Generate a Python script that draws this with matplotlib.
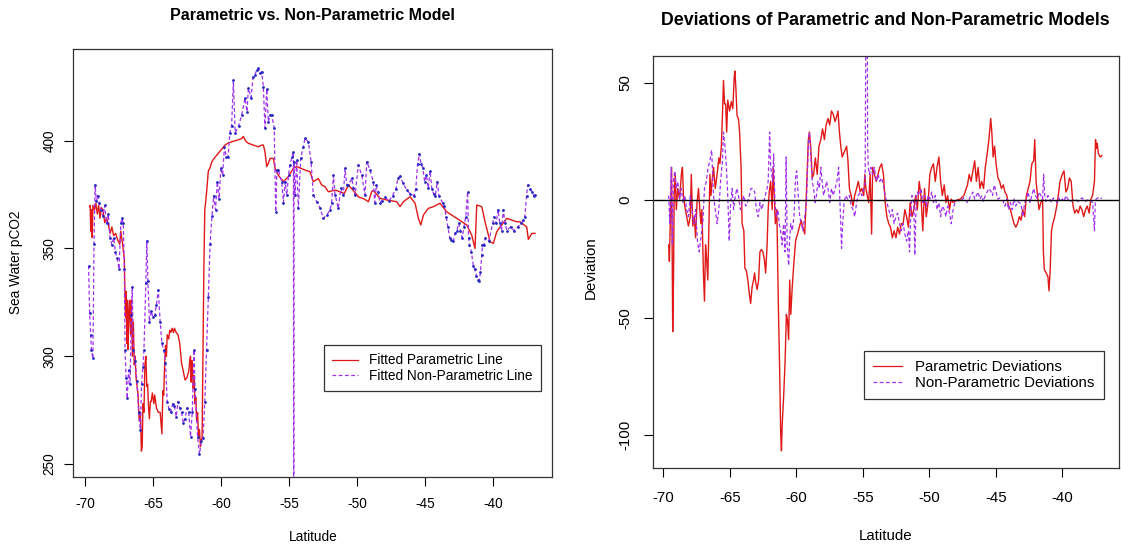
import matplotlib
matplotlib.use('Agg')
import matplotlib.pyplot as plt
from matplotlib.lines import Line2D

plt.rcParams['font.family'] = ['Liberation Sans', 'DejaVu Sans']
plt.rcParams['axes.unicode_minus'] = False

# fitted pCO2 along the cruise track: parametric fit
lat_par = [-69.66, -69.62, -69.58, -69.52, -69.47, -69.42, -69.30, -69.20, -69.10, -69.00,
           -68.90, -68.80, -68.69, -68.55, -68.40, -68.25, -68.15, -68.03, -67.90, -67.75,
           -67.60, -67.45, -67.37, -67.24, -67.11, -67.06, -67.02, -66.98, -66.93, -66.88,
           -66.85, -66.78, -66.72, -66.66, -66.59, -66.52, -66.45, -66.38, -66.32, -66.25,
           -66.19, -66.10, -66.02, -65.93, -65.86, -65.80, -65.74, -65.67, -65.60, -65.53,
           -65.46, -65.40, -65.33, -65.27, -65.20, -65.14, -65.05, -64.95, -64.88, -64.75,
           -64.62, -64.48, -64.40, -64.35, -64.28, -64.22, -64.15, -64.09, -64.02, -63.96,
           -63.85, -63.78, -63.70, -63.60, -63.50, -63.43, -63.30, -63.17, -63.04, -62.95,
           -62.91, -62.78, -62.65, -62.52, -62.38, -62.30, -62.25, -62.20, -62.15, -62.12,
           -62.05, -61.99, -61.92, -61.86, -61.80, -61.73, -61.66, -61.59, -61.52, -61.46,
           -61.40, -61.33, -61.27, -61.20, -61.13, -61.07, -60.94, -60.81, -60.70, -60.54,
           -60.30, -60.02, -59.71, -59.49, -59.23, -58.97, -58.70, -58.49, -58.37, -58.18,
           -58.00, -57.65, -57.27, -57.00, -56.90, -56.78, -56.65, -56.53, -56.41, -56.16,
           -56.04, -55.80, -55.43, -55.06, -54.69, -54.45, -53.84, -53.47, -53.23, -52.86,
           -52.61, -52.37, -52.12, -51.63, -51.26, -50.95, -50.65, -50.30, -49.92, -49.50,
           -49.18, -48.94, -48.82, -48.33, -47.83, -47.10, -46.86, -46.61, -46.12, -45.75,
           -45.51, -45.33, -45.14, -44.78, -44.41, -43.92, -43.42, -42.69, -41.95, -41.59,
           -41.35, -41.22, -40.85, -40.61, -40.24, -40.00, -39.75, -39.38, -39.02, -38.65,
           -38.28, -38.04, -37.55, -37.43, -37.18, -36.94]
pco2_par = [369.4, 370, 358, 368, 355, 370, 368, 371, 366, 370,
            364, 369, 368, 362, 364, 360, 357, 360, 356, 357,
            354, 352, 358, 352, 345, 327, 318, 330, 306, 326,
            303, 320, 326, 310, 326, 300, 316, 296, 300, 290,
            287, 282, 270, 274, 256, 258, 278, 274, 296, 300,
            286, 287, 276, 271, 279, 279, 283, 278, 282, 276,
            274, 274, 268, 264, 284, 282, 296, 305, 300, 310,
            308, 312, 311, 313, 311, 313, 311, 310, 306, 300,
            297, 293, 289, 290, 293, 298, 300, 288, 298, 297,
            285, 291, 278, 281, 270, 274, 262, 266, 258, 261,
            262, 303, 340, 368, 372, 376, 386, 387.5, 390, 391.6,
            393.5, 395.6, 398, 398.9, 399.5, 400, 400.5, 401, 402, 399.7,
            398.8, 398, 397.2, 398, 398, 394.9, 388, 389.5, 391.8, 391.8,
            387.2, 384, 381, 383.3, 387.2, 388, 386.4, 385.6, 381, 382.5,
            379.4, 378.7, 376.3, 377.1, 376.3, 375.5, 379.4, 377, 374, 373,
            371.7, 376.3, 377, 373.3, 372.5, 371.7, 369.4, 371.7, 374, 371,
            364, 360.9, 365.5, 368.6, 369.4, 371, 367, 364, 360.9, 356.2,
            350, 370.2, 369.4, 362.4, 353.1, 352.4, 357.8, 360.9, 364, 363.2,
            362.4, 362.4, 360, 354.2, 357, 357]

# non-parametric fit (observations sit on top of it as small dots)
lat_np = [-69.74, -69.66, -69.58, -69.53, -69.42, -69.34, -69.26, -69.16, -69.08, -68.95,
          -68.82, -68.69, -68.56, -68.42, -68.29, -68.16, -68.03, -67.90, -67.77, -67.64,
          -67.50, -67.37, -67.29, -67.19, -67.11, -67.06, -66.98, -66.90, -66.80, -66.69,
          -66.59, -66.53, -66.45, -66.32, -66.19, -66.06, -65.93, -65.85, -65.74, -65.67,
          -65.53, -65.46, -65.38, -65.27, -65.14, -65.01, -64.88, -64.75, -64.62, -64.48,
          -64.35, -64.22, -64.09, -63.96, -63.83, -63.70, -63.56, -63.43, -63.30, -63.17,
          -63.04, -62.91, -62.78, -62.65, -62.52, -62.38, -62.25, -62.12, -61.99, -61.92,
          -61.73, -61.59, -61.46, -61.33, -61.20, -61.07, -60.94, -60.81, -60.68, -60.54,
          -60.41, -60.28, -60.15, -60.02, -59.89, -59.76, -59.62, -59.49, -59.36, -59.23,
          -59.10, -58.97, -58.71, -58.49, -58.25, -58.10, -58.00, -57.80, -57.65, -57.51,
          -57.39, -57.27, -57.13, -57.02, -56.90, -56.78, -56.65, -56.53, -56.41, -56.29,
          -56.10, -55.99, -55.90, -55.80, -55.55, -55.42, -55.30, -55.18, -55.05, -54.94,
          -54.80, -54.69, -54.66, -54.64, -54.57, -54.45, -54.33, -54.15, -53.97, -53.84,
          -53.59, -53.39, -53.23, -52.98, -52.73, -52.49, -52.24, -52.00, -51.88, -51.75,
          -51.63, -51.39, -51.20, -51.02, -50.90, -50.77, -50.65, -50.41, -50.28, -50.16,
          -49.92, -49.67, -49.43, -49.30, -49.06, -48.82, -48.72, -48.60, -48.46, -48.33,
          -48.20, -47.94, -47.67, -47.41, -47.15, -47.02, -46.88, -46.62, -46.36, -46.10,
          -45.83, -45.70, -45.57, -45.43, -45.31, -45.18, -45.05, -44.92, -44.78, -44.65,
          -44.52, -44.39, -44.26, -44.13, -44.00, -43.73, -43.60, -43.47, -43.34, -43.21,
          -43.08, -42.94, -42.81, -42.68, -42.55, -42.42, -42.29, -42.16, -42.03, -41.89,
          -41.82, -41.76, -41.62, -41.47, -41.37, -41.24, -41.11, -41.03, -40.95, -40.85,
          -40.80, -40.69, -40.58, -40.32, -40.06, -39.93, -39.79, -39.66, -39.53, -39.40,
          -39.27, -39.14, -39.01, -38.74, -38.48, -38.22, -37.95, -37.82, -37.69, -37.56,
          -37.48, -37.30, -37.17, -37.03, -36.94]
pco2_np = [342, 320, 310, 303, 299, 352, 379.4, 372, 374.5, 371,
           368, 365, 370, 361.6, 366, 355, 351.8, 355, 348.6, 345.4,
           340.5, 361.6, 364, 361.6, 340.5, 303, 290, 280.5, 293.5, 287,
           319, 332, 303, 298, 288.6, 274, 266, 287, 295, 303,
           334, 353.5, 335, 316, 321, 318, 319, 324, 330.8, 316,
           306, 303, 297, 279, 275.5, 274, 278, 277, 272, 279,
           276, 274, 269, 271, 276, 274, 262.7, 274, 303, 285,
           262.7, 254.5, 260.5, 262, 279, 303, 327.5, 352, 365, 374.5,
           368, 381, 373, 387.5, 384, 397, 392.4, 392.4, 403.7, 407,
           428, 403.7, 407, 412, 419.7, 413.5, 424.3, 420, 429.7, 430.5,
           433, 433.6, 431.3, 432, 425, 405.8, 424, 408.8, 411.8, 412,
           406, 367, 386.5, 386.5, 381, 371.3, 381, 374.8, 384, 388.7,
           392.4, 394.9, 120, 390, 374.8, 391, 368.6, 392, 397, 401.1,
           399.5, 390.3, 375, 371.7, 368.6, 364, 365.5, 368, 371.3, 384,
           375, 368.6, 378, 374.8, 387.2, 379.4, 379.4, 382.5, 378, 374.8,
           388.7, 384, 374.8, 390.3, 386.4, 381, 371.3, 379.4, 376, 371.3,
           372, 373.7, 372, 374.5, 377.8, 382.6, 383.5, 380.2, 377, 375.4,
           374.5, 377.8, 389, 394, 389, 387.5, 381, 384, 378, 386,
           377.8, 375.4, 374.5, 381, 374.5, 371.3, 369.7, 364.8, 360, 355,
           354, 353.5, 357, 358.3, 361.6, 358.3, 355, 360, 364.8, 376.2,
           355, 351.8, 348.6, 342, 340.5, 337.3, 335.6, 335, 339, 347,
           351.8, 351.8, 355, 353.5, 361.6, 364.8, 361.6, 368, 361.6, 358.3,
           368, 361.6, 358.3, 360, 358.3, 360, 361.6, 363, 364.8, 374.5,
           379.4, 377.8, 376.2, 374.5, 375]

# deviations (observed minus fitted) for the parametric model
lat_dpar = [-69.60, -69.55, -69.46, -69.38, -69.30, -69.24, -69.19, -69.11, -69.03, -68.92,
            -68.78, -68.65, -68.57, -68.49, -68.39, -68.25, -68.12, -67.98, -67.90, -67.79,
            -67.68, -67.58, -67.47, -67.36, -67.26, -67.18, -67.10, -66.99, -66.91, -66.83,
            -66.75, -66.66, -66.58, -66.50, -66.42, -66.34, -66.23, -66.10, -65.96, -65.83,
            -65.75, -65.64, -65.56, -65.48, -65.40, -65.32, -65.24, -65.16, -65.02, -64.89,
            -64.78, -64.67, -64.62, -64.54, -64.46, -64.35, -64.27, -64.16, -64.08, -63.95,
            -63.87, -63.76, -63.65, -63.54, -63.44, -63.33, -63.22, -63.14, -63.06, -62.95,
            -62.84, -62.74, -62.63, -62.52, -62.41, -62.31, -62.20, -62.12, -62.04, -61.93,
            -61.82, -61.74, -61.66, -61.58, -61.47, -61.34, -61.26, -61.18, -61.12, -61.07,
            -60.96, -60.85, -60.75, -60.67, -60.58, -60.50, -60.42, -60.31, -60.18, -60.05,
            -59.91, -59.78, -59.64, -59.51, -59.37, -59.29, -59.18, -59.10, -59.02, -58.92,
            -58.81, -58.70, -58.57, -58.43, -58.30, -58.16, -58.03, -57.89, -57.76, -57.62,
            -57.49, -57.36, -57.22, -57.09, -56.95, -56.87, -56.76, -56.66, -56.55, -56.44,
            -56.33, -56.22, -56.12, -56.01, -55.88, -55.74, -55.61, -55.47, -55.34, -55.20,
            -55.07, -54.93, -54.85, -54.77, -54.67, -54.56, -54.45, -54.34, -54.26, -54.13,
            -53.99, -53.86, -53.72, -53.59, -53.45, -53.32, -53.19, -53.05, -52.92, -52.78,
            -52.65, -52.51, -52.38, -52.24, -52.11, -51.97, -51.84, -51.71, -51.57, -51.44,
            -51.30, -51.17, -51.03, -50.90, -50.76, -50.63, -50.49, -50.36, -50.23, -50.09,
            -49.96, -49.82, -49.69, -49.55, -49.42, -49.28, -49.15, -49.02, -48.88, -48.75,
            -48.62, -48.48, -48.35, -48.21, -47.94, -47.67, -47.40, -47.13, -47.00, -46.86,
            -46.59, -46.46, -46.33, -46.19, -46.06, -45.92, -45.79, -45.65, -45.52, -45.38,
            -45.30, -45.20, -45.09, -44.98, -44.84, -44.71, -44.58, -44.44, -44.31, -44.17,
            -44.04, -43.90, -43.77, -43.63, -43.50, -43.37, -43.23, -43.10, -42.97, -42.83,
            -42.70, -42.56, -42.43, -42.29, -42.15, -42.07, -41.97, -41.86, -41.75, -41.61,
            -41.48, -41.42, -41.35, -41.21, -41.08, -41.00, -40.92, -40.81, -40.71, -40.57,
            -40.42, -40.30, -40.17, -40.00, -39.87, -39.73, -39.60, -39.46, -39.33, -39.19,
            -39.06, -38.92, -38.79, -38.66, -38.52, -38.39, -38.25, -38.12, -37.98, -37.85,
            -37.72, -37.58, -37.50, -37.44, -37.37, -37.29, -37.15, -37.02]
dev_par = [-19, -26, -4, 14, -56, -34, 2, 11, -4, 5,
           0.5, 11, 14, 2, -2.5, -7, -11, -7, 11, -11,
           -7, -16, -1, 5, -4, -10, -4, -31, -43, -19,
           -25, -34, -11, 11, 2, 8, 14, 5, 11, 18,
           15.6, 23, 36, 51, 41, 41, 29, 42.6, 38, 42,
           39, 52.7, 55, 46.8, 36, 34.6, 29, 14, -10, -13,
           -29, -30, -34, -39.7, -44, -37, -34, -31, -35, -38,
           -34, -22, -21, -22, -25, -31, -19, -4, 3.5, 8,
           -4, 14, 2, -10, -4, -48.6, -71, -99, -106.7, -96,
           -84, -69, -48.6, -51, -59.4, -34, -48.6, -37, -26, -17,
           -14.4, -11.5, -8.5, -11.5, -14.4, -4, 14, 25.8, 29, 23,
           9.5, 11, 18, 11, 23, 25.8, 30.4, 25.8, 32, 34.8,
           32, 38, 36.5, 33.5, 36, 38, 29, 23, 18.4, 20,
           21.4, 23, 16.8, 5, 2, -2.5, 2, 5, 8, 3.5,
           5, 2, 11, 5, 2, -1, 11, -14.4, 14, 11,
           8, 11, 14, 15.5, 11, -1, -7, -10, -11.5, -16,
           -13, -16, -11.5, -14.4, -10, -10, -4, -7, -11.5, -1,
           -7, -4, 2, -4, 8, 2, -13, 5, -7, -1,
           11, 14, 15.5, 8, 14, 18.4, 8, 2, 6.5, -1,
           2, -4, 0.5, -1, 0, 0.5, 2, 6.5, 11, 8,
           16.8, 8, 14, 5, 8, 5, 14, 19.7, 25.8, 34.8,
           29, 18.4, 23, 15.5, 9.5, 8, 5, 6.5, 3.5, 2,
           -2.5, -4, -7, -10, -11.5, -10, -7, -8.5, -4, -7,
           2, 5, 8, 15.5, 16.8, 25.8, 8, 2, -4, -1,
           0.5, -22, -29.5, -31, -32.5, -38.6, -31, -13, -10, -7,
           -2.5, 2, 8, 11, 12.5, 3.5, 5, 9.5, 8, -2.5,
           -5.5, -4, -5.5, -2.5, -4, -7, -4, -2.5, -5.5, 0.5,
           2, 8, 25.8, 22, 24.3, 20, 18.4, 19]

# deviations for the non-parametric model
lat_dnp = [-69.60, -69.52, -69.41, -69.33, -69.25, -69.14, -69.03, -68.92, -68.78, -68.65,
           -68.52, -68.39, -68.25, -68.12, -67.98, -67.85, -67.71, -67.58, -67.44, -67.31,
           -67.18, -67.04, -66.91, -66.77, -66.64, -66.50, -66.37, -66.23, -66.10, -65.96,
           -65.83, -65.70, -65.56, -65.48, -65.37, -65.26, -65.16, -65.05, -64.94, -64.83,
           -64.72, -64.62, -64.48, -64.35, -64.21, -64.08, -63.95, -63.81, -63.68, -63.54,
           -63.41, -63.27, -63.14, -63.00, -62.87, -62.74, -62.60, -62.47, -62.34, -62.20,
           -62.12, -62.01, -61.93, -61.79, -61.71, -61.61, -61.50, -61.39, -61.29, -61.18,
           -61.07, -60.96, -60.85, -60.77, -60.69, -60.58, -60.50, -60.42, -60.31, -60.18,
           -60.05, -59.97, -59.86, -59.75, -59.62, -59.51, -59.37, -59.24, -59.10, -59.02,
           -58.92, -58.81, -58.70, -58.59, -58.49, -58.38, -58.27, -58.16, -58.06, -57.95,
           -57.84, -57.73, -57.62, -57.49, -57.36, -57.22, -57.09, -56.95, -56.82, -56.68,
           -56.60, -56.52, -56.41, -56.28, -56.15, -56.01, -55.88, -55.74, -55.61, -55.47,
           -55.34, -55.20, -55.07, -54.93, -54.83, -54.70, -54.64, -54.59, -54.50, -54.40,
           -54.26, -54.13, -53.99, -53.86, -53.72, -53.59, -53.45, -53.32, -53.19, -53.05,
           -52.92, -52.78, -52.65, -52.51, -52.38, -52.24, -52.11, -51.97, -51.84, -51.71,
           -51.57, -51.49, -51.39, -51.30, -51.17, -51.09, -50.98, -50.90, -50.76, -50.63,
           -50.49, -50.36, -50.23, -50.09, -49.96, -49.82, -49.69, -49.55, -49.42, -49.28,
           -49.15, -49.02, -48.88, -48.75, -48.62, -48.48, -48.35, -48.21, -48.08, -47.94,
           -47.67, -47.40, -47.13, -46.86, -46.73, -46.59, -46.33, -46.19, -46.06, -45.92,
           -45.79, -45.65, -45.52, -45.38, -45.25, -45.11, -44.98, -44.84, -44.71, -44.44,
           -44.31, -44.17, -44.04, -43.90, -43.77, -43.63, -43.50, -43.37, -43.23, -43.10,
           -42.97, -42.83, -42.70, -42.56, -42.43, -42.29, -42.15, -42.02, -41.88, -41.75,
           -41.61, -41.48, -41.40, -41.32, -41.21, -41.08, -40.94, -40.81, -40.67, -40.54,
           -40.40, -40.27, -40.13, -40.00, -39.87, -39.73, -39.60, -39.33, -39.06, -38.79,
           -38.52, -38.25, -37.98, -37.72, -37.58, -37.52, -37.45, -37.31, -37.15, -37.02]
dev_np = [2, -10, 14, -19, 8, 12.5, 5, 8, 0.5, 5,
          -1, 2, -4, -7, 2, -4, -10, -4, -17.4, -22,
          -16, -10, 5, 8, 14, 16.8, 21.4, 2, -4, -10,
          -4, 8, 16.8, 29, 23, 14, 2, -17.4, -1, 5,
          -4, 0.5, 5, 2, -4, -1, 2, -2.5, -1, 2,
          5, 5, 3.5, -4, -7, -1, -4, -1, 2, 5,
          8, 29, 14, 8, 19.7, -1, -7, -4, -10, -13,
          -19, -10, -22, 18.4, -19, -27.8, -16, -10, -13, -7,
          11, 12.5, 2, -7, -10, -13, -7, -1, 23, 29,
          19.7, 8, 5, -1, 2, 8, 5, 14, 8, 2,
          5, 8, 5, -1, 5, 2, 5, 8, 14, -7,
          -20.5, -10, -1, 2, 0.5, 2, -2.5, -4, -7, -1,
          2, 3.5, 2, 5, 8, 150, 23, 14, 11, 14,
          11, 14, 8, 11, 8, 9.5, 6.5, 2, -1, -4,
          -7, -4, -10, -7, -5.5, -10, -13, -10, -14.4, -17.4,
          -13, -22, -4, 2, -1, -23.4, 2, 3.5, 2, 5,
          -1, 2, -2.5, 2, 0.5, 3.5, -1, 2, -4, -1,
          -7, -2.5, -4, -7, -2.5, -5.5, -10, -4, -1, 0,
          -0.5, 1, -1, 2, 3.5, 0.5, 3.5, 0.5, 2, -0.5,
          2, 3.5, 5, 4, 2, 6.5, 3.5, 0.5, 1, -0.5,
          -2.5, 0.5, -4, -1, -4, 0.5, -2.5, -0.5, -1, -1.5,
          -7, -1, 0.5, 3.5, -1, 2, 5, 2, 0.5, 3.5,
          2, 0.5, 11, 2, -0.5, 2, 0.5, -1, 1, 0.5,
          -1, 1, -0.5, 0.5, -0.5, 2, 0.5, -0.5, 0.5, -0.5,
          1, -0.5, 0.5, -1, -13, -1, 0.5, 1, 0.5, 1]

red = '#e01818'
purple = '#a030f0'
dotblue = '#2828c0'

fig = plt.figure(figsize=(11.21, 5.48), dpi=100)

# ---- left panel: fitted lines
ax1 = fig.add_axes([0.0654, 0.130, 0.4268, 0.780])
ax1.plot(lat_par, pco2_par, color=red, lw=1.0)
ax1.plot(lat_np, pco2_np, color=purple, lw=0.9, dashes=(3, 2),
         marker='.', ms=2, mfc=dotblue, mec=dotblue)
ax1.set_xlim(-70.86, -35.71)
ax1.set_ylim(244.1, 442.4)
ax1.set_xticks([-70, -65, -60, -55, -50, -45, -40])
ax1.set_yticks([250, 300, 350, 400])
ax1.tick_params(axis='both', direction='out', length=6.5, width=0.8, labelsize=9.8)
ax1.tick_params(axis='x', pad=8.2)
ax1.tick_params(axis='y', pad=5.7)
plt.setp(ax1.get_yticklabels(), rotation=90, va='center')
fig.text(0.2783, 0.971, 'Parametric vs. Non-Parametric Model', ha='center', va='center',
         fontsize=11.5, fontweight='bold')
fig.text(0.2792, 1 - 537 / 548, 'Latitude', ha='center', va='center', fontsize=9.8)
fig.text(16 / 1121, 1 - 262 / 548, 'Sea Water pCO2', ha='center', va='center',
         rotation=90, fontsize=9.8)
h1 = [Line2D([], [], color=red, lw=0.9),
      Line2D([], [], color=purple, lw=0.9, dashes=(3, 2))]
leg1 = ax1.legend(h1, ['Fitted Parametric Line', 'Fitted Non-Parametric Line'],
                  loc='upper left', bbox_to_anchor=(0.523, 0.308), borderaxespad=0,
                  fontsize=9.8, fancybox=False, framealpha=1, edgecolor='#333333',
                  borderpad=0.6, labelspacing=0.1, handlelength=1.9, handletextpad=0.85)
leg1.get_frame().set_linewidth(0.9)

# ---- right panel: deviations
ax2 = fig.add_axes([0.5823, 0.1465, 0.4162, 0.7513])
ax2.plot(lat_dpar, dev_par, color=red, lw=1.0)
ax2.plot(lat_dnp, dev_np, color=purple, lw=0.9, dashes=(3, 2))
ax2.axhline(0, color='black', lw=1)
ax2.set_xlim(-70.8, -35.71)
ax2.set_ylim(-113.9, 61.4)
ax2.set_xticks([-70, -65, -60, -55, -50, -45, -40])
ax2.set_yticks([-100, -50, 0, 50])
ax2.tick_params(axis='both', direction='out', length=6.5, width=0.8, labelsize=10.8)
ax2.tick_params(axis='x', pad=10)
ax2.tick_params(axis='y', pad=8.2)
plt.setp(ax2.get_yticklabels(), rotation=90, va='center')
fig.text(0.790, 0.963, 'Deviations of Parametric and Non-Parametric Models', ha='center',
         va='center', fontsize=12.8, fontweight='bold')
fig.text(885.5 / 1121, 1 - 535.5 / 548, 'Latitude', ha='center', va='center', fontsize=10.8)
fig.text(590.4 / 1121, 1 - 268 / 548, 'Deviation', ha='center', va='center',
         rotation=90, fontsize=10.8)
h2 = [Line2D([], [], color=red, lw=0.9),
      Line2D([], [], color=purple, lw=0.9, dashes=(3, 2))]
leg2 = ax2.legend(h2, ['Parametric Deviations', 'Non-Parametric Deviations'],
                  loc='upper left', bbox_to_anchor=(0.4535, 0.284), borderaxespad=0,
                  fontsize=10.8, fancybox=False, framealpha=1, edgecolor='#333333',
                  borderpad=0.6, labelspacing=0.15, handlelength=1.9, handletextpad=0.9)
leg2.get_frame().set_linewidth(0.9)

for ax in (ax1, ax2):
    for s in ax.spines.values():
        s.set_color('#333333')
        s.set_linewidth(0.9)

fig.savefig('out.png', dpi=100)
